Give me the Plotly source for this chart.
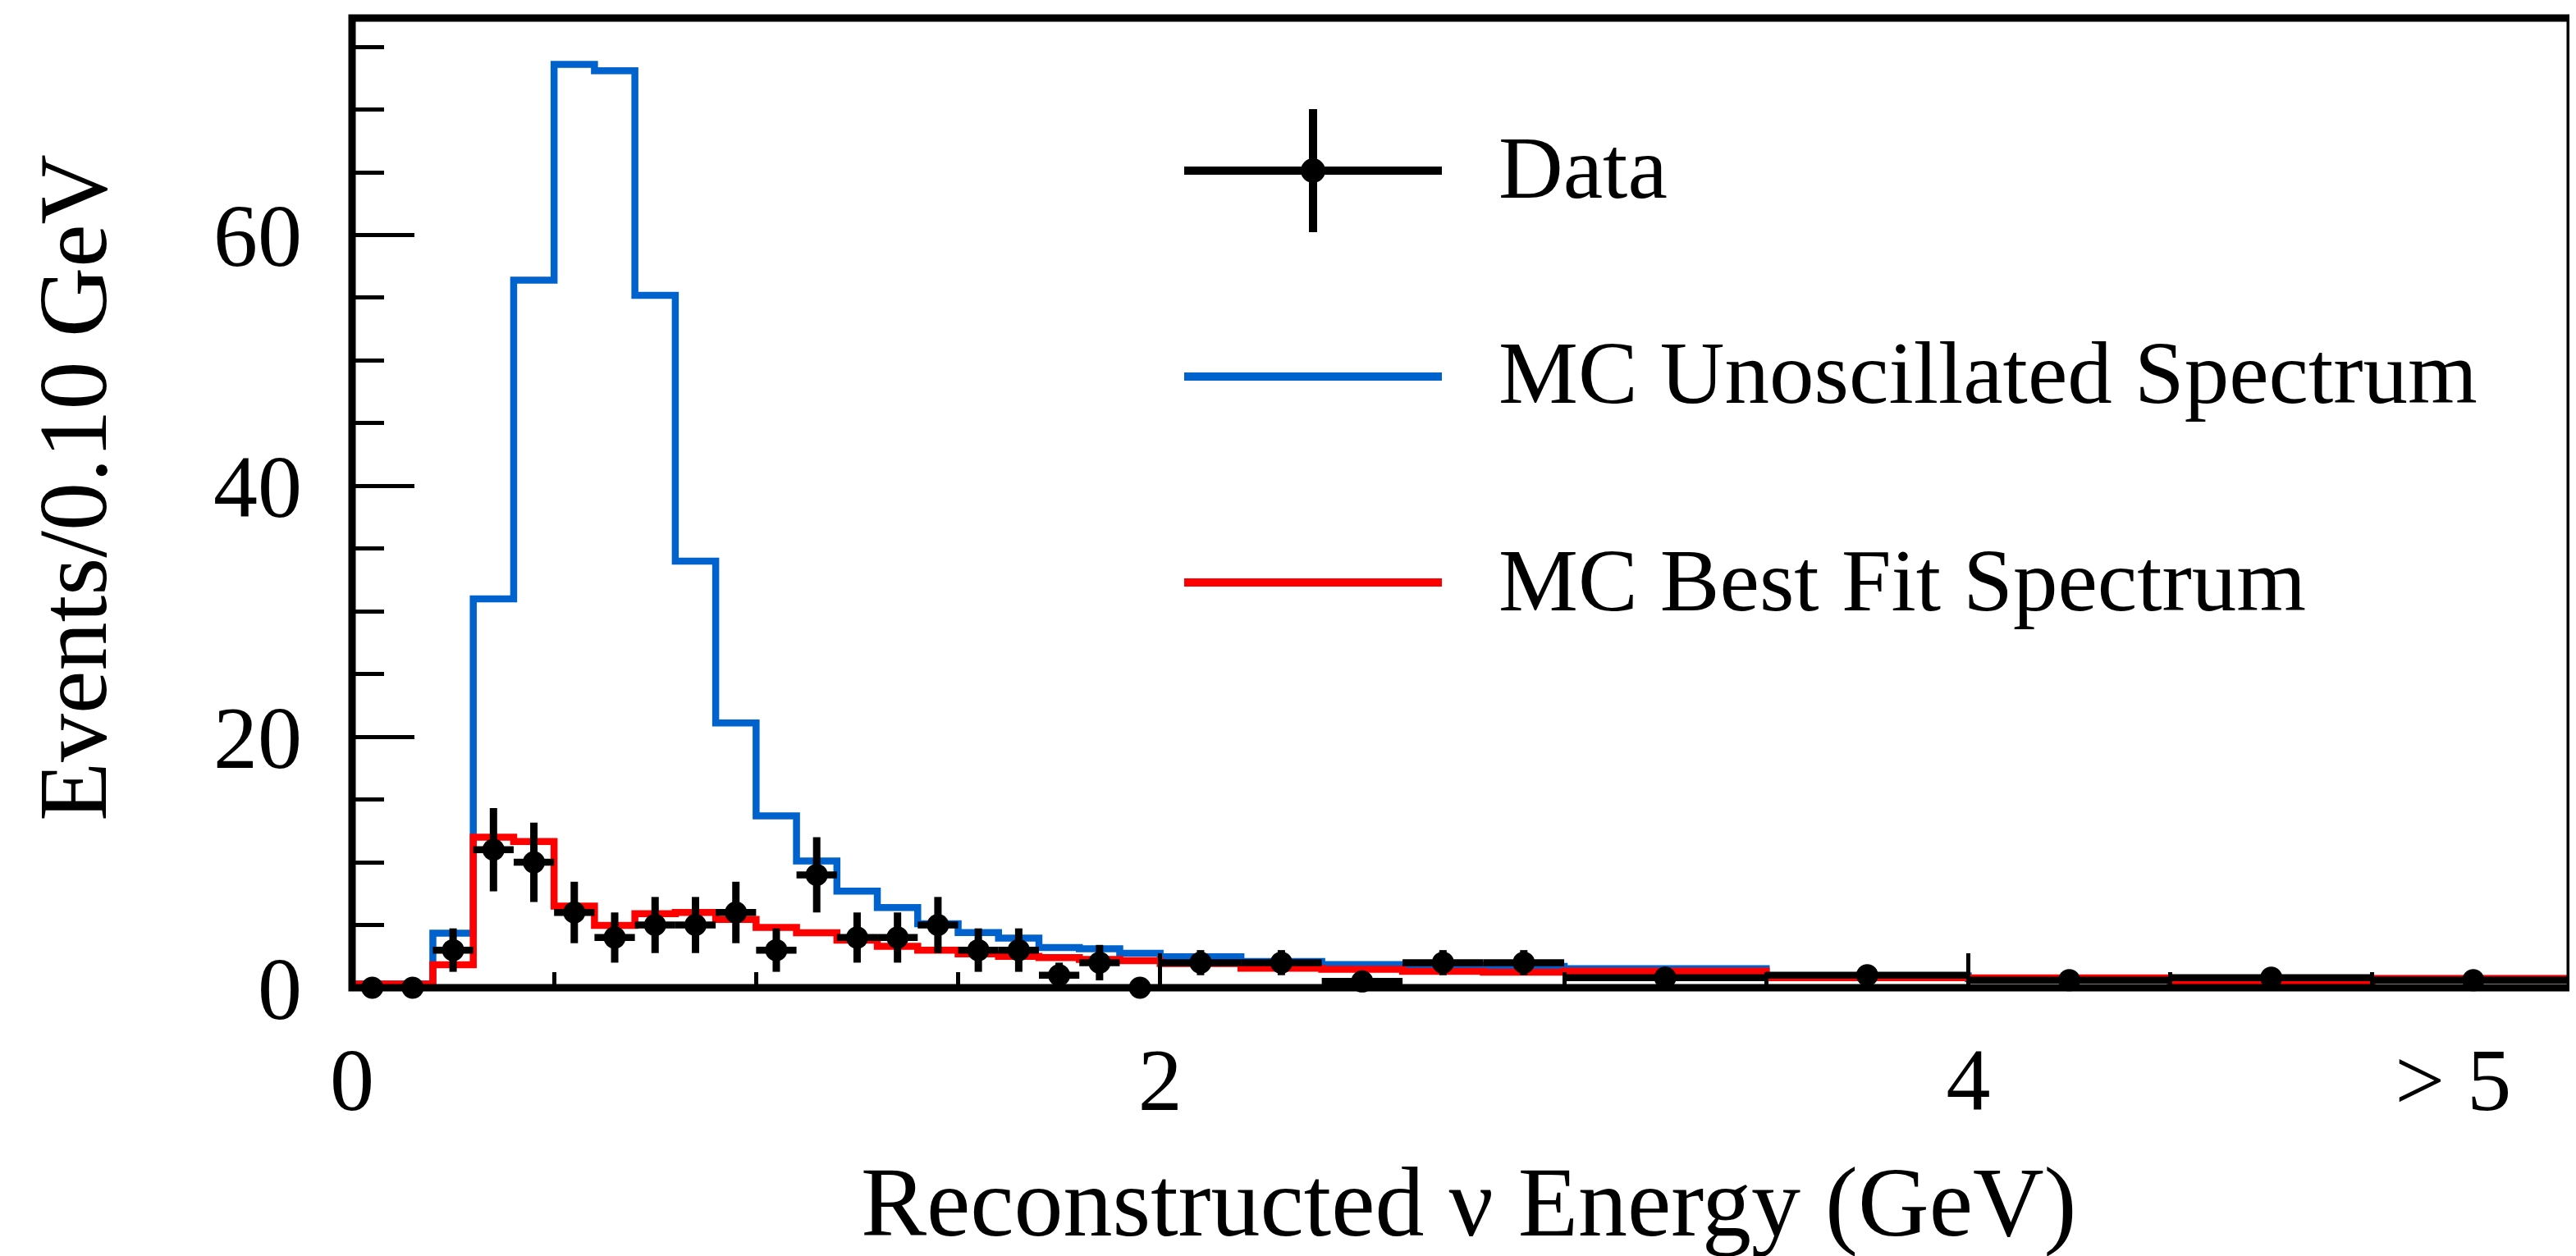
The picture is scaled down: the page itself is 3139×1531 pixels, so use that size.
import numpy as np
import plotly.graph_objects as go

# ---------------- data ----------------
bin_edges = [0.0, 0.1, 0.2, 0.3, 0.4, 0.5, 0.6, 0.7, 0.8, 0.9, 1.0,
             1.1, 1.2, 1.3, 1.4, 1.5, 1.6, 1.7, 1.8, 1.9, 2.0,
             2.2, 2.4, 2.6, 2.8, 3.0, 3.5, 4.0, 4.5, 5.0, 5.5]

# MC spectra, events per 0.10 GeV
mc_unoscillated = [0.3, 0.3, 4.35, 31.0, 56.4, 73.6, 73.1, 55.2, 34.0, 21.1,
                   13.7, 10.1, 7.7, 6.4, 5.1, 4.4, 3.95, 3.2, 3.1, 2.75,
                   2.47, 2.1, 1.85, 1.8, 1.7,
                   1.52, 0.95, 0.72, 0.5, 0.72]
mc_best_fit = [0.3, 0.3, 1.83, 12.0, 11.65, 6.5, 4.97, 5.9, 6.0, 5.45,
               4.8, 4.38, 3.8, 3.3, 3.0, 2.7, 2.5, 2.4, 2.25, 2.15,
               1.93, 1.55, 1.47, 1.3, 1.25,
               1.33, 0.8, 0.78, 0.42, 0.74]

# observed event counts per bin
data_counts = [0, 0, 3, 11, 10, 6, 4, 5, 5, 6,
               3, 9, 4, 4, 5, 3, 3, 1, 2, 0,
               4, 4, 1, 4, 4,
               4, 5, 3, 4, 3]

x_tick_vals = [0, 2, 4, 5.2]
x_tick_text = ["0", "2", "4", "> 5"]
y_tick_vals = [0, 20, 40, 60]
y_tick_text = ["0", "20", "40", "60"]

x_title = "Reconstructed \u03bd Energy (GeV)"
y_title = "Events/0.10 GeV"
legend_labels = ["Data", "MC Unoscillated Spectrum", "MC Best Fit Spectrum"]

BLUE = "#0062CC"
RED = "#FF0000"
FONT = "Liberation Serif"

# ---------------- derived ----------------
edges = np.array(bin_edges)
widths = np.diff(edges)
centers = 0.5 * (edges[:-1] + edges[1:])
scale = widths / 0.1
counts = np.array(data_counts, dtype=float)
data_vals = counts / scale
data_err = np.sqrt(counts) / scale
xerr = np.where(counts > 0, widths / 2, 0.0)

def step_xy(vals):
    return list(edges), list(vals) + [vals[-1]]

fig = go.Figure()
for vals, col in [(mc_unoscillated, BLUE), (mc_best_fit, RED)]:
    sx, sy = step_xy(vals)
    fig.add_trace(go.Scatter(x=sx, y=sy, mode="lines", line_shape="hv",
                             line=dict(color=col, width=8.5),
                             hoverinfo="skip"))

fig.add_trace(go.Scatter(
    x=centers, y=data_vals, mode="markers", xaxis="x2", yaxis="y",
    marker=dict(color="black", size=27),
    error_y=dict(type="data", array=data_err, thickness=9, width=0, color="black"),
    error_x=dict(type="data", array=xerr, thickness=8.5, width=0, color="black"),
    cliponaxis=False))

OFF = 8  # page body margin
W, H = 3131, 1523
L, R, T, B = 421, 7, 14, 327
pw, ph = W - L - R, H - T - B

def px_x(p):  # page pixel -> paper
    return (p - OFF - L) / pw

def px_y(p):
    return (H - B - (p - OFF)) / ph

tickfont = dict(family=FONT, size=108, color="black")
XR = [0, 5.49]

fig.update_layout(
    width=W, height=H,
    margin=dict(l=L, r=R, t=T, b=B, pad=0),
    paper_bgcolor="white", plot_bgcolor="white",
    showlegend=False,
    font=dict(family=FONT, color="black"),
    xaxis=dict(range=XR, showgrid=False, zeroline=False, showline=False,
               tickmode="array", tickvals=[0, 2, 4], ticks="inside",
               ticklen=42, tickwidth=4.5, tickcolor="black",
               showticklabels=False,
               minor=dict(tickmode="linear", tick0=0, dtick=0.5, ticks="inside",
                          ticklen=19, tickwidth=4.5, tickcolor="black",
                          showgrid=False)),
    xaxis2=dict(overlaying="x", matches="x", anchor="y", side="bottom",
                range=XR, showgrid=False, zeroline=False, showline=False,
                tickmode="array", tickvals=x_tick_vals, ticktext=x_tick_text,
                ticks="", tickfont=tickfont, ticklabelstandoff=40),
    yaxis=dict(range=[0, 77.3], showgrid=False, zeroline=False, showline=False,
               tickmode="array", tickvals=y_tick_vals, ticktext=y_tick_text,
               ticks="inside", ticklen=76, tickwidth=4.5, tickcolor="black",
               tickfont=tickfont, ticklabelstandoff=60,
               minor=dict(tickmode="linear", tick0=0, dtick=5, ticks="inside",
                          ticklen=39, tickwidth=4.5, tickcolor="black",
                          showgrid=False)),
)

shapes = [dict(type="rect", xref="paper", yref="paper", x0=0, x1=1, y0=0, y1=1,
               line=dict(color="black", width=9), layer="above")]
# legend keys
lx0, lx1 = px_x(1443), px_x(1757)
shapes.append(dict(type="line", xref="paper", yref="paper", x0=lx0, x1=lx1,
                   y0=px_y(208), y1=px_y(208), line=dict(color="black", width=10)))
shapes.append(dict(type="line", xref="paper", yref="paper", x0=px_x(1600), x1=px_x(1600),
                   y0=px_y(133), y1=px_y(283), line=dict(color="black", width=10)))
shapes.append(dict(type="circle", xref="paper", yref="paper", xsizemode="pixel",
                   ysizemode="pixel", xanchor=px_x(1600), yanchor=px_y(208),
                   x0=-15, x1=15, y0=-15, y1=15, fillcolor="black",
                   line=dict(color="black", width=0)))
shapes.append(dict(type="line", xref="paper", yref="paper", x0=lx0, x1=lx1,
                   y0=px_y(459), y1=px_y(459), line=dict(color=BLUE, width=10)))
shapes.append(dict(type="line", xref="paper", yref="paper", x0=lx0, x1=lx1,
                   y0=px_y(710), y1=px_y(710), line=dict(color=RED, width=10)))

ann = []
for lab, yc in zip(legend_labels, [205, 455, 708]):
    ann.append(dict(text=lab, xref="paper", yref="paper", x=px_x(1824), y=px_y(yc),
                    xanchor="left", yanchor="middle", showarrow=False,
                    font=dict(family=FONT, size=109, color="black")))
ann.append(dict(text=x_title, xref="paper", yref="paper", x=px_x(1790), y=px_y(1465),
                xanchor="center", yanchor="middle", showarrow=False,
                font=dict(family=FONT, size=120, color="black")))
ann.append(dict(text=y_title, xref="paper", yref="paper", x=px_x(89), y=px_y(595),
                xanchor="center", yanchor="middle", showarrow=False, textangle=-90,
                font=dict(family=FONT, size=118, color="black")))

fig.update_layout(shapes=shapes, annotations=ann)
fig.write_html("out.html")
